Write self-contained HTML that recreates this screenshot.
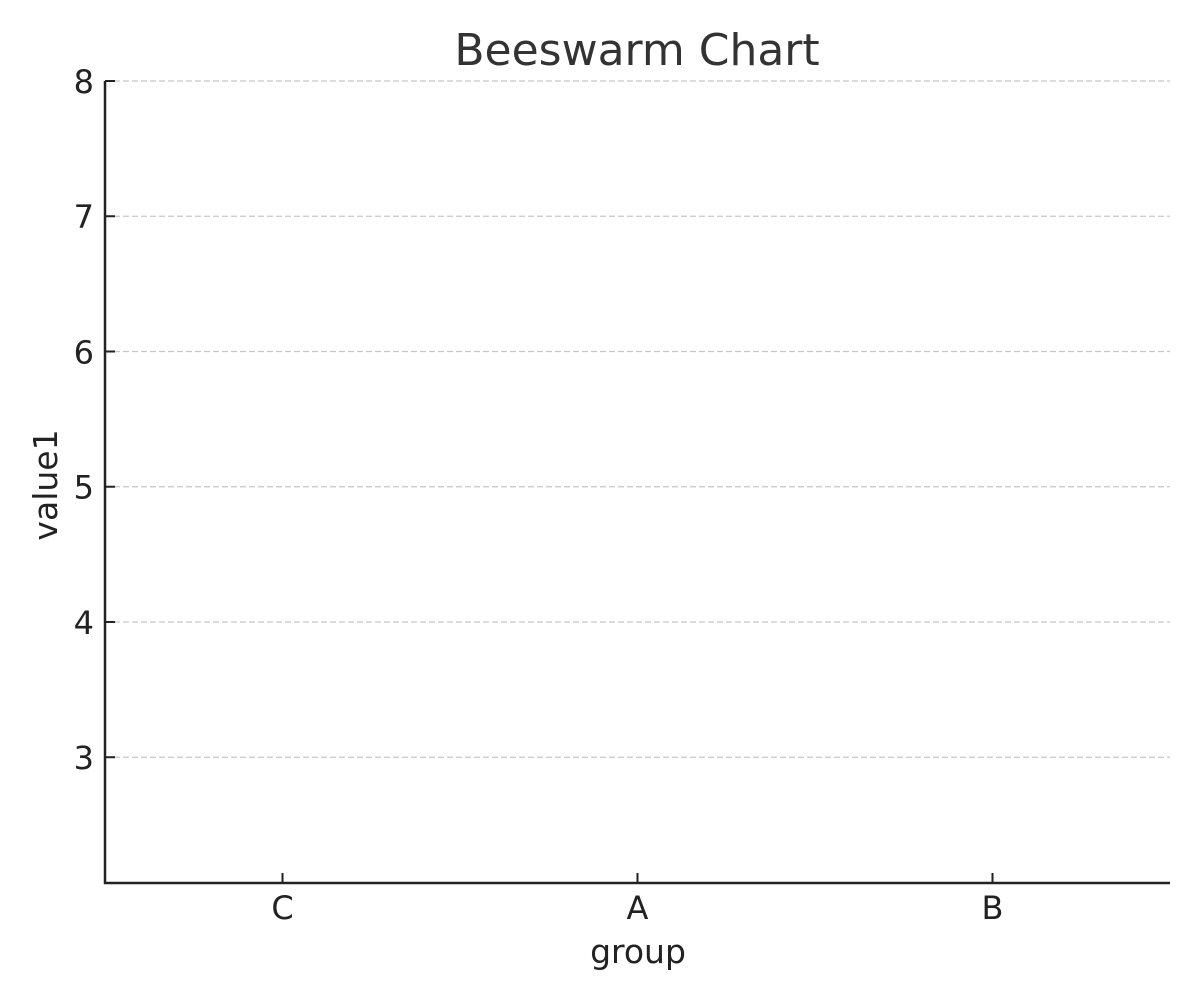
<!DOCTYPE html>
<html><head><meta charset="utf-8"><style>
html,body{margin:0;padding:0;background:#fff;}
svg{display:block;font-family:"DejaVu Sans","Liberation Sans",sans-serif;}
</style></head><body>
<svg id="chart" width="1200" height="1000" viewBox="0 0 1200 1000">
<text x="637" y="65" text-anchor="middle" font-size="44" fill="#333">Beeswarm Chart</text>
<g id="grid"></g>
<g id="points"></g>
<g id="axes"></g>
<text x="638" y="963" text-anchor="middle" font-size="33" fill="#222">group</text>
<text transform="translate(57,485) rotate(-90)" text-anchor="middle" font-size="33" fill="#222">value1</text>
</svg>
<script>
const categories = ["C", "A", "B"];
const yTicks = [3, 4, 5, 6, 7, 8];
const pointGroups = [];
const pointValues = [];
const yMin = 2.07, yMax = 8;

const L = 105, R = 1170, T = 81, B = 883;
const ns = "http://www.w3.org/2000/svg";
function xPos(i){ return L + (i + 0.5) * (R - L) / categories.length; }
function yPos(v){ return B - (v - yMin) / (yMax - yMin) * (B - T); }
function mk(tag, attrs, parent){
  const e = document.createElementNS(ns, tag);
  for (const k in attrs) e.setAttribute(k, attrs[k]);
  parent.appendChild(e);
  return e;
}
const grid = document.getElementById('grid');
const axes = document.getElementById('axes');
const pts = document.getElementById('points');

yTicks.forEach(v => {
  const y = yPos(v);
  const g = mk('line', {x1: L, x2: R, y1: y, y2: y, stroke: '#c8c8c8', 'stroke-width': 1.3, 'stroke-dasharray': '6 3'}, grid);
  
  
  const t = mk('line', {x1: L, x2: L + 10, y1: y, y2: y, stroke: '#222', 'stroke-width': 2}, axes);
  
  
  const lb = mk('text', {x: L - 11, y: y + 12, 'text-anchor': 'end', 'font-size': 32, fill: '#222'}, axes);
  lb.textContent = v;
  
  
});

categories.forEach((c, i) => {
  const x = xPos(i);
  const t = mk('line', {x1: x, x2: x, y1: B, y2: B - 10, stroke: '#222', 'stroke-width': 2}, axes);
  
  
  const lb = mk('text', {x: x, y: 919, 'text-anchor': 'middle', 'font-size': 32, fill: '#222'}, axes);
  lb.textContent = c;
  
  
});

const yAxis = mk('line', {x1: L, x2: L, y1: T, y2: B + 1, stroke: '#222', 'stroke-width': 2.5}, axes);


const xAxis = mk('line', {x1: L - 1, x2: R, y1: B, y2: B, stroke: '#222', 'stroke-width': 2.5}, axes);



pointValues.forEach((v, k) => {
  const gi = categories.indexOf(pointGroups[k]);
  const c = mk('circle', {cx: xPos(gi), cy: yPos(v), r: 5, fill: '#4c72b0'}, pts);
  
  
});
</script>
</body></html>
